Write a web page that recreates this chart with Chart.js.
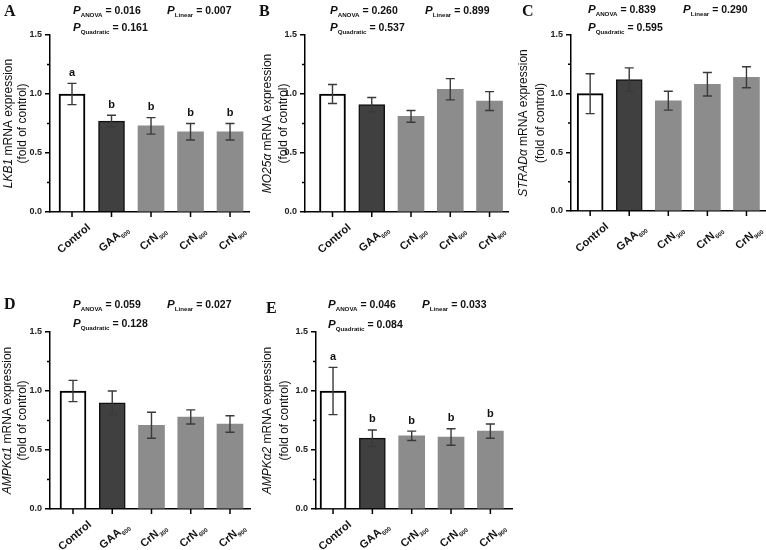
<!DOCTYPE html>
<html>
<head>
<meta charset="utf-8">
<script src="https://cdn.jsdelivr.net/npm/chart.js@4.4.1/dist/chart.umd.min.js"></script>
<style>
html,body{margin:0;padding:0;background:#fff;}
#wrap{position:relative;width:766px;height:550px;overflow:hidden;background:#fff;}
#wrap canvas{position:absolute;left:0;top:0;}
</style>
</head>
<body>
<div id="wrap">
  <canvas id="cA" width="766" height="550"></canvas>
  <canvas id="cB" width="766" height="550"></canvas>
  <canvas id="cC" width="766" height="550"></canvas>
  <canvas id="cD" width="766" height="550"></canvas>
  <canvas id="cE" width="766" height="550"></canvas>
</div>
<script>
// ── DATA ──
const groups = ['Control', 'GAA', 'CrN', 'CrN', 'CrN'];
const groupSubs = ['', '600', '300', '600', '900'];
const yTickValues = [0, 0.5, 1.0, 1.5];
const yMinorValues = [0.25, 0.75, 1.25];

const lkb1Mean = [1.00, 0.77, 0.73, 0.68, 0.68];
const lkb1Sem = [0.09, 0.05, 0.07, 0.07, 0.07];
const lkb1Letters = ['a', 'b', 'b', 'b', 'b'];

const mo25Mean = [1.00, 0.91, 0.81, 1.04, 0.94];
const mo25Sem = [0.08, 0.06, 0.05, 0.09, 0.08];

const stradMean = [1.00, 1.12, 0.94, 1.08, 1.14];
const stradSem = [0.17, 0.10, 0.08, 0.10, 0.09];

const ampka1Mean = [1.00, 0.90, 0.71, 0.78, 0.72];
const ampka1Sem = [0.09, 0.10, 0.11, 0.06, 0.07];

const ampka2Mean = [1.00, 0.60, 0.62, 0.61, 0.66];
const ampka2Sem = [0.20, 0.07, 0.04, 0.07, 0.06];
const ampka2Letters = ['a', 'b', 'b', 'b', 'b'];

const panelLetters = ['A', 'B', 'C', 'D', 'E'];
const geneNames = ['LKB1', 'MO25α', 'STRADα', 'AMPKα1', 'AMPKα2'];
const pAnova = ['0.016', '0.260', '0.839', '0.059', '0.046'];
const pLinear = ['0.007', '0.899', '0.290', '0.027', '0.033'];
const pQuadratic = ['0.161', '0.537', '0.595', '0.128', '0.084'];

const panelMeans = [lkb1Mean, mo25Mean, stradMean, ampka1Mean, ampka2Mean];
const panelSems = [lkb1Sem, mo25Sem, stradSem, ampka1Sem, ampka2Sem];
const panelSig = [lkb1Letters, null, null, null, ampka2Letters];

// ── LAYOUT (pixel boxes per panel) ──
const layouts = [
  {id:'cA', left:50,  right:249, top:35,  bottom:212, xMin:-0.557, xMax:4.48, letter:[4,16],    p1:[73,13.5],  pL:[167,13.5], pQ:[73,31],   title:[8.5,22.5]},
  {id:'cB', left:305, right:508, top:35,  bottom:212, xMin:-0.70,  xMax:4.47, letter:[259,16],  p1:[330,13.5], pL:[425,13.5], pQ:[330,31],  title:[268,284]},
  {id:'cC', left:571, right:766, top:35,  bottom:211, xMin:-0.49,  xMax:4.5,  letter:[522,15.5],p1:[588,13],   pL:[683,13],   pQ:[588,31],  title:[524,541]},
  {id:'cD', left:50,  right:250, top:332, bottom:509, xMin:-0.586, xMax:4.51, letter:[4,309],   p1:[73,307.5], pL:[167,307.5],pQ:[73,327],  title:[7.5,22.5]},
  {id:'cE', left:316, right:512, top:332, bottom:509, xMin:-0.433, xMax:4.55, letter:[266,313], p1:[328,308],  pL:[422,308],  pQ:[328,328], title:[268,285]}
];

const SANS = "'Liberation Sans', Arial, sans-serif";
const SERIF = "'Liberation Serif', 'Times New Roman', serif";
const barFill = ['#ffffff', '#404040', '#8c8c8c', '#8c8c8c', '#8c8c8c'];
const barEdge = ['#000000', '#111111', '#8c8c8c', '#8c8c8c', '#8c8c8c'];
const barEdgeW = [2, 1.5, 0, 0, 0];

function isMajor(v){ return yTickValues.some(t => Math.abs(t - v) < 1e-6); }

// draw a run of differently styled pieces, left to right
function rich(ctx, x, y, parts){
  let cx = x;
  parts.forEach(p => {
    ctx.font = p.font;
    ctx.fillText(p.text, cx, y + (p.dy || 0));
    cx += ctx.measureText(p.text).width;
  });
  return cx - x;
}
function richWidth(ctx, parts){
  let w = 0;
  parts.forEach(p => { ctx.font = p.font; w += ctx.measureText(p.text).width; });
  return w;
}

function pLine(ctx, x, y, sub, val){
  rich(ctx, x, y, [
    {text:'P', font:`italic bold 11.5px ${SANS}`},
    {text:sub, font:`bold 6.2px ${SANS}`, dy:3},
    {text:' = ' + val, font:`bold 10.5px ${SANS}`}
  ]);
}

function panelDecor(k){
  const L = layouts[k];
  return {
    id: 'decor' + k,
    afterDatasetsDraw(chart){
      const {ctx, scales:{x, y}} = chart;
      const means = panelMeans[k], sems = panelSems[k], letters = panelSig[k];
      ctx.save();
      ctx.strokeStyle = '#3a3a3a';
      ctx.lineWidth = 1.4;
      means.forEach((m, i) => {
        const px = x.getPixelForValue(i);
        const yt = y.getPixelForValue(m + sems[i]);
        const yb = y.getPixelForValue(m - sems[i]);
        ctx.beginPath();
        ctx.moveTo(px, yt); ctx.lineTo(px, yb);
        ctx.moveTo(px - 4.5, yt); ctx.lineTo(px + 4.5, yt);
        ctx.moveTo(px - 4.5, yb); ctx.lineTo(px + 4.5, yb);
        ctx.stroke();
        if (letters){
          ctx.fillStyle = '#111';
          ctx.font = `bold 11px ${SANS}`;
          ctx.textAlign = 'center';
          ctx.textBaseline = 'middle';
          ctx.fillText(letters[i], px, yt - 10.5);
        }
      });
      ctx.restore();
    },
    afterDraw(chart){
      const {ctx, chartArea:a, scales:{x, y}} = chart;
      ctx.save();
      // x tick marks
      ctx.strokeStyle = '#000';
      ctx.lineWidth = 1.5;
      ctx.beginPath();
      groups.forEach((g, i) => {
        const px = x.getPixelForValue(i);
        ctx.moveTo(px, a.bottom); ctx.lineTo(px, a.bottom + 5);
      });
      // minor y ticks
      yMinorValues.forEach(v => {
        const py = y.getPixelForValue(v);
        ctx.moveTo(a.left - 3, py); ctx.lineTo(a.left, py);
      });
      ctx.stroke();

      // x labels, rotated about their centre, with subscripts
      ctx.fillStyle = '#111';
      ctx.textAlign = 'left';
      ctx.textBaseline = 'alphabetic';
      groups.forEach((g, i) => {
        const parts = [{text:g, font:`bold 11px ${SANS}`}];
        if (groupSubs[i]) parts.push({text:groupSubs[i], font:`bold 6px ${SANS}`, dy:3});
        const w = richWidth(ctx, parts);
        ctx.save();
        ctx.translate(x.getPixelForValue(i) + 1.5, a.bottom + 26);
        ctx.rotate(-40 * Math.PI / 180);
        rich(ctx, -w / 2, 4, parts);
        ctx.restore();
      });

      // y axis title (two lines)
      const cy = (a.top + a.bottom) / 2;
      ctx.textBaseline = 'middle';
      const l1 = [
        {text:geneNames[k], font:`italic 12px ${SANS}`},
        {text:' mRNA expression', font:`12px ${SANS}`}
      ];
      const l2 = [{text:'(fold of control)', font:`12px ${SANS}`}];
      [[l1, L.title[0]], [l2, L.title[1]]].forEach(([parts, tx]) => {
        const w = richWidth(ctx, parts);
        ctx.save();
        ctx.translate(tx, cy);
        ctx.rotate(-Math.PI / 2);
        rich(ctx, -w / 2, 0, parts);
        ctx.restore();
      });

      // panel letter and statistics
      ctx.textBaseline = 'alphabetic';
      ctx.font = `bold 16px ${SERIF}`;
      ctx.fillText(panelLetters[k], L.letter[0], L.letter[1]);
      pLine(ctx, L.p1[0], L.p1[1], 'ANOVA', pAnova[k]);
      pLine(ctx, L.pL[0], L.pL[1], 'Linear', pLinear[k]);
      pLine(ctx, L.pQ[0], L.pQ[1], 'Quadratic', pQuadratic[k]);
      ctx.restore();
    }
  };
}

function makePanel(k){
  const L = layouts[k];
  const means = panelMeans[k];
  return new Chart(document.getElementById(L.id), {
    type: 'bar',
    data: {
      datasets: [{
        data: means.map((v, i) => ({x:i, y:v})),
        backgroundColor: barFill,
        borderColor: barEdge,
        borderWidth: barEdgeW,
        barThickness: 26
      }]
    },
    options: {
      responsive: false,
      animation: false,
      events: [],
      layout: {padding: {left: L.left - 40, right: 766 - L.right, top: L.top, bottom: 550 - L.bottom}},
      plugins: {legend: {display: false}, tooltip: {enabled: false}},
      scales: {
        x: {
          type: 'linear', min: L.xMin, max: L.xMax, z: 1, offset: false,
          afterFit: s => { s.height = 0; },
          ticks: {display: false},
          grid: {display: false, offset: false},
          border: {display: true, color: '#000', width: 1.5}
        },
        y: {
          type: 'linear', min: 0, max: 1.5, z: 1,
          afterFit: s => { s.width = 40; },
          ticks: {
            stepSize: 0.25, autoSkip: false, padding: 3, color: '#222',
            font: {family: SANS, size: 9, weight: 'bold'},
            callback: v => isMajor(v) ? v.toFixed(1) : ''
          },
          grid: {
            drawOnChartArea: false, drawTicks: true, tickLength: 5, lineWidth: 1.5,
            color: c => (c.tick && isMajor(c.tick.value)) ? '#000' : 'rgba(0,0,0,0)'
          },
          border: {display: true, color: '#000', width: 1.5}
        }
      }
    },
    plugins: [panelDecor(k)]
  });
}

layouts.forEach((L, k) => makePanel(k));
</script>
</body>
</html>
